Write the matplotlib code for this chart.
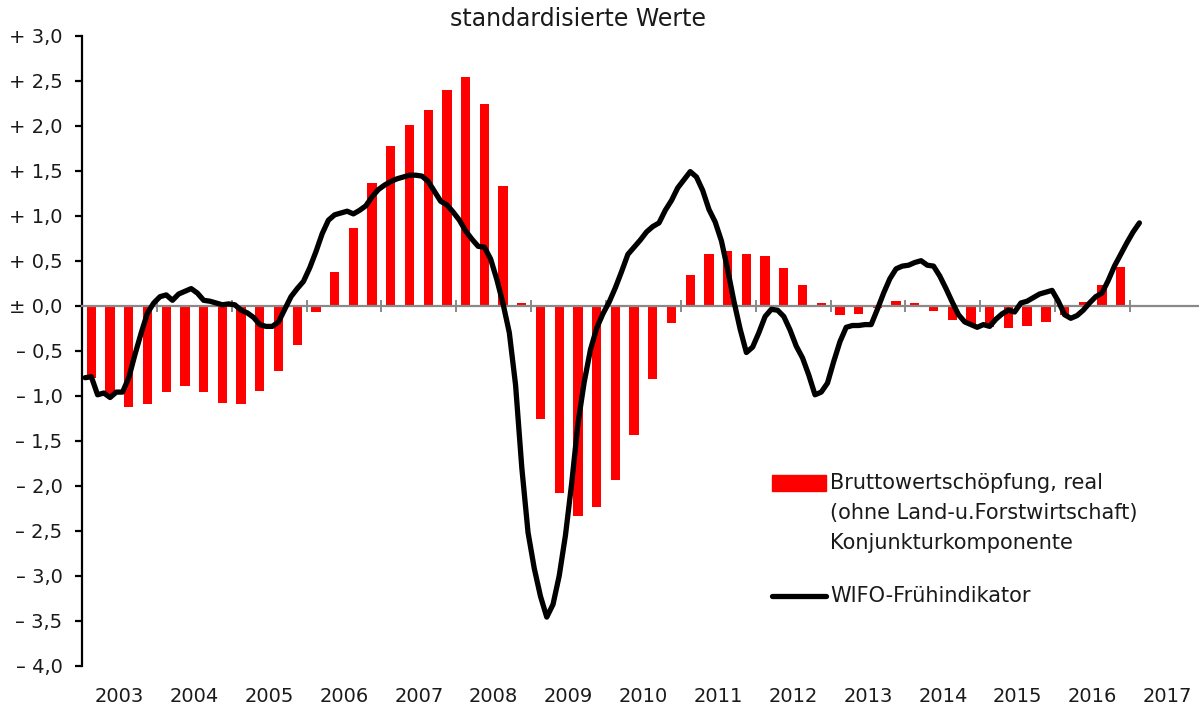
import numpy as np
import matplotlib
matplotlib.use("Agg")
import matplotlib.pyplot as plt
from matplotlib.patches import Rectangle
from matplotlib.lines import Line2D

plt.rcParams['font.family'] = ['DejaVu Sans']

# quarterly bars: Bruttowertschoepfung, Konjunkturkomponente (2003Q1 .. 2016Q4)
barYears = np.arange(2003, 2017)
bwsValues = [
    -0.80, -1.00, -1.13, -1.09,
    -0.96, -0.89, -0.96, -1.08,
    -1.09, -0.95, -0.73, -0.44,
    -0.07, 0.38, 0.86, 1.36,
    1.77, 2.01, 2.17, 2.40,
    2.54, 2.24, 1.33, 0.03,
    -1.26, -2.08, -2.34, -2.24,
    -1.94, -1.44, -0.81, -0.19,
    0.34, 0.57, 0.61, 0.58,
    0.55, 0.42, 0.23, 0.03,
    -0.10, -0.09, -0.02, 0.05,
    0.03, -0.06, -0.16, -0.20,
    -0.24, -0.25, -0.23, -0.18,
    -0.10, 0.04, 0.23, 0.43,
]

# monthly line: WIFO-Fruehindikator, Jan 2003 .. Feb 2017
wifoValues = [
    -0.80, -0.79, -0.99, -0.97, -1.02, -0.96, -0.96, -0.80, -0.54, -0.30, -0.08, 0.03,
    0.10, 0.12, 0.06, 0.13, 0.16, 0.19, 0.14, 0.06, 0.05, 0.03, 0.01, 0.02,
    0.01, -0.05, -0.08, -0.13, -0.21, -0.23, -0.23, -0.18, -0.04, 0.10, 0.19, 0.27,
    0.42, 0.60, 0.80, 0.95, 1.01, 1.03, 1.05, 1.02, 1.06, 1.11, 1.21, 1.29,
    1.34, 1.38, 1.41, 1.43, 1.45, 1.45, 1.44, 1.38, 1.27, 1.16, 1.12, 1.04,
    0.95, 0.83, 0.74, 0.66, 0.65, 0.52, 0.29, 0.02, -0.30, -0.88, -1.80, -2.52,
    -2.92, -3.23, -3.46, -3.32, -3.00, -2.55, -1.97, -1.31, -0.85, -0.49, -0.25, -0.09,
    0.04, 0.20, 0.38, 0.57, 0.65, 0.73, 0.82, 0.88, 0.92, 1.06, 1.17, 1.31,
    1.40, 1.49, 1.43, 1.28, 1.07, 0.93, 0.72, 0.40, 0.05, -0.26, -0.52, -0.46,
    -0.30, -0.12, -0.04, -0.05, -0.12, -0.27, -0.45, -0.58, -0.77, -0.99, -0.96, -0.86,
    -0.62, -0.40, -0.24, -0.22, -0.22, -0.21, -0.21, -0.04, 0.14, 0.30, 0.41, 0.44,
    0.45, 0.48, 0.50, 0.45, 0.44, 0.33, 0.19, 0.04, -0.10, -0.18, -0.21, -0.24,
    -0.21, -0.23, -0.15, -0.09, -0.05, -0.07, 0.03, 0.05, 0.09, 0.13, 0.15, 0.17,
    0.05, -0.10, -0.14, -0.11, -0.05, 0.03, 0.10, 0.14, 0.28, 0.44, 0.57, 0.70,
    0.82, 0.92,
]

yTicks = [3.0, 2.5, 2.0, 1.5, 1.0, 0.5, 0.0, -0.5, -1.0, -1.5, -2.0, -2.5, -3.0, -3.5, -4.0]
yearLabels = [str(y) for y in range(2003, 2018)]


def fmtTick(v):
    s = f"{abs(v):.1f}".replace(".", ",")
    if v > 0:
        return "+ " + s
    if v < 0:
        return "\u2013 " + s
    return "\u00b1 " + s


W, H = 1199, 706
fig = plt.figure(figsize=(W / 100, H / 100), dpi=100)
ax = fig.add_axes([82 / W, 1 - 665.7 / H, 1 - 82 / W, (665.7 - 35.7) / H])

# bars at the middle of each quarter
barX = np.repeat(barYears, 4) + (np.tile(np.arange(4), len(barYears)) + 0.5) / 4
ax.bar(barX, bwsValues, width=0.125, color="#ff0000", zorder=1)

# line at the middle of each month
lineX = 2003 + (np.arange(len(wifoValues)) + 0.5) / 12
ax.plot(lineX, wifoValues, color="black", lw=3.8, solid_joinstyle="round",
        solid_capstyle="round", zorder=3)

ax.set_xlim(2003, 2003 + (W - 82) / 74.86)
ax.set_ylim(-4.0, 3.0)

# y axis
ax.set_yticks(yTicks, [fmtTick(v) for v in yTicks])
ax.tick_params(axis="y", direction="out", length=5, width=1.6, color="black",
               pad=9, labelsize=14, labelcolor="#1a1a1a")
ax.spines["left"].set_linewidth(1.6)
ax.spines["left"].set_color("black")
ax.spines["top"].set_visible(False)
ax.spines["right"].set_visible(False)

# zero line carries the year ticks
ax.spines["bottom"].set_position(("data", 0))
ax.spines["bottom"].set_color("#898989")
ax.spines["bottom"].set_linewidth(1.6)
ax.set_xticks(range(2003, 2018))
ax.tick_params(axis="x", direction="inout", length=9, width=1.4, color="#898989",
               labelbottom=False)

# year labels at the bottom, centred in each year
sec = ax.secondary_xaxis("bottom")
sec.set_xticks(np.arange(2003, 2018) + 0.5, yearLabels)
sec.tick_params(length=0, pad=15, labelsize=14, labelcolor="#1a1a1a")
sec.spines["bottom"].set_visible(False)

fig.text(578.5 / W, 1 - 19 / H, "standardisierte Werte", ha="center", va="center",
         fontsize=17, color="#1a1a1a")

# legend
fig.patches.append(Rectangle((772 / W, 1 - 491 / H), 54 / W, 16 / H,
                             transform=fig.transFigure, color="#ff0000"))
legendLines = ["Bruttowertsch\u00f6pfung, real", "(ohne Land-u.Forstwirtschaft)",
               "Konjunkturkomponente"]
for i, txt in enumerate(legendLines):
    fig.text(830 / W, 1 - (483 + 30 * i) / H, txt, ha="left", va="center",
             fontsize=15, color="#1a1a1a")
fig.lines.append(Line2D([772 / W, 826 / W], [1 - 596 / H, 1 - 596 / H],
                        transform=fig.transFigure, color="black", lw=3.8,
                        solid_capstyle="round"))
fig.text(830 / W, 1 - 596 / H, "WIFO-Fr\u00fchindikator", ha="left", va="center",
         fontsize=15, color="#1a1a1a")

fig.savefig("out.png", dpi=100)
